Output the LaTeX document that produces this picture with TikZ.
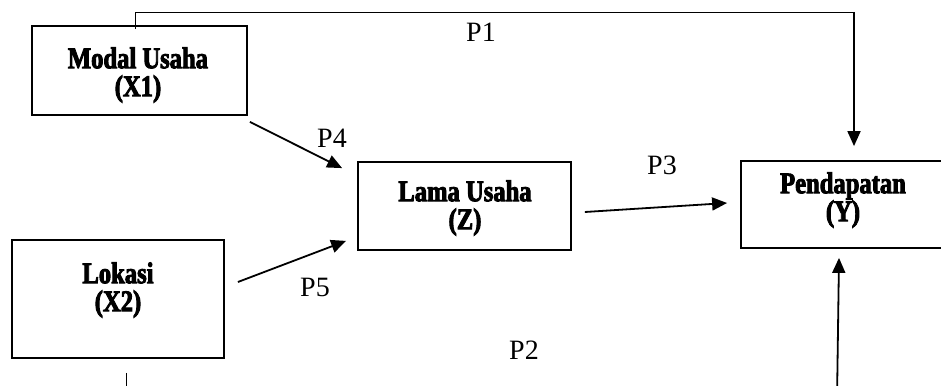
\documentclass[tikz,border=0pt]{standalone}
\usepackage{fontspec}
\setmainfont{Liberation Serif}
\newfontfamily\boxfont[FakeStretch=0.82,FakeBold=3]{Liberation Serif Bold}
\usetikzlibrary{arrows.meta,calc}
\begin{document}
\begin{tikzpicture}[x=1pt,y=-1pt,
  box/.style={draw,line width=1.8pt,inner sep=0pt},
  boxtext/.style={font=\boxfont\fontsize{30}{28}\selectfont,align=center,inner sep=0pt},
  lab/.style={font=\fontsize{28}{30}\selectfont,inner sep=0pt},
  arr/.style={line width=1.8pt,-{Triangle[length=15pt,width=13pt]}},
  thinline/.style={line width=0.9pt}]
\useasboundingbox (0,0) rectangle (941,385);
% boxes
\node[box,minimum width=215pt,minimum height=89pt] (x1) at (139.5,70.5) {};
\node[box,minimum width=213pt,minimum height=88pt] (z) at (464.5,206) {};
\node[box,minimum width=212pt,minimum height=118pt] (x2) at (118,299) {};
\node[box,minimum width=204pt,minimum height=87pt] (y) at (843,204.5) {};
% box texts
\node[boxtext] (tx1) at (138,75) {Modal Usaha\\(X1)};
\node[boxtext] (tz) at (465,208) {Lama Usaha\\(Z)};
\node[boxtext] (tx2) at (118,290) {Lokasi\\(X2)};
\node[boxtext] (ty) at (843,200) {Pendapatan\\(Y)};
% connectors
\coordinate (c1) at (854,12);
\draw[thinline] ($(x1.north)+(-4.5,4)$) |- (c1);
\draw[arr] (c1) -- ($(y.north)+(11,-14)$);
\draw[arr] ($(x1.south east)+(2,6)$) -- ($(z.north west)+(-15,7)$);
\draw[arr] ($(x2.east)+(13,-17)$) -- ($(z.south west)+(-11,-10)$);
\draw[arr] ($(z.east)+(13,6)$) -- ($(y.west)+(-13,-1.5)$);
\coordinate (c2) at (126,400);
\coordinate (c3) at (837,400);
\draw[thinline] ($(x2.south)+(8,14)$) -- (c2);
\draw[arr] (c3) -- ($(y.south)+(-4,9)$);
% labels
\node[lab] (p1) at (481,32) {P1};
\node[lab] (p4) at (332,138) {P4};
\node[lab] (p3) at (662,165) {P3};
\node[lab] (p5) at (315,287) {P5};
\node[lab] (p2) at (524,350) {P2};
\end{tikzpicture}
\end{document}
